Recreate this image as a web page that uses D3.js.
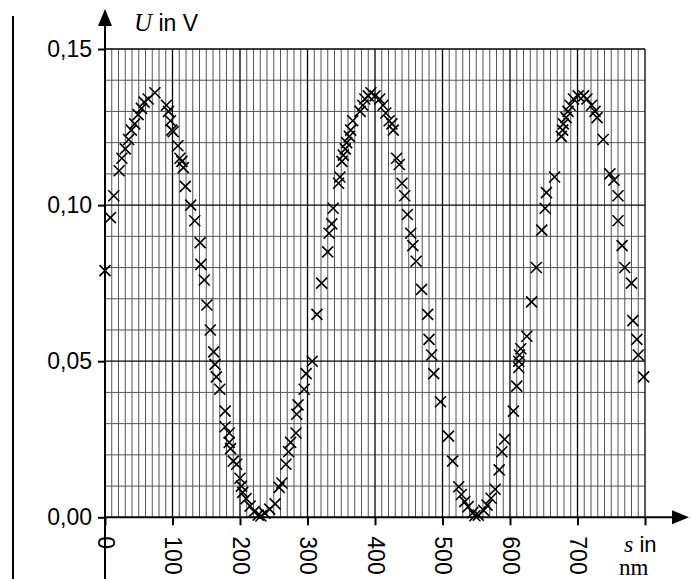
<!DOCTYPE html>
<html>
<head>
<meta charset="utf-8">
<script src="https://cdn.jsdelivr.net/npm/d3@7"></script>
<style>
  body { margin: 0; background: #fff; }
  svg { display: block; }
</style>
</head>
<body>
<script>
// measured points: path difference s (nm) and voltage U (V)
var sVals = [0, 8, 13, 21, 25, 30, 35, 39, 44, 49, 54, 58, 64, 74,
  91, 94, 97, 99, 101, 108, 111, 114, 116, 119, 127, 133, 141, 142, 147, 151, 156, 161, 163, 165, 170,
  178, 178, 184, 184, 186, 190, 195, 200, 202, 204, 209, 215, 221, 227, 231, 237, 244, 252,
  258, 262, 268, 272, 275, 283, 284, 286, 295, 298, 307, 314, 321, 330, 332, 336, 338,
  346, 348, 351, 353, 356, 358, 362, 364, 367, 378, 382, 385, 390, 394, 400, 407, 412, 416,
  421, 425, 427, 432, 436, 440, 444, 448, 453, 456, 461, 469, 478, 480, 484, 487, 497,
  509, 515, 524, 528, 533, 538, 545, 548, 553, 561, 566, 572, 578, 584, 588, 592,
  605, 610, 613, 613, 614, 616, 625, 632, 639, 647, 652, 654, 666, 676, 678, 679, 683, 686, 689,
  694, 701, 709, 714, 721, 726, 729, 738, 748, 754, 760, 760, 766, 770, 780, 782, 788, 790, 798];
var uVals = [0.079, 0.096, 0.103, 0.111, 0.115, 0.118, 0.121, 0.124, 0.126, 0.129, 0.131, 0.133, 0.134, 0.136,
  0.132, 0.130, 0.127, 0.124, 0.1235, 0.119, 0.115, 0.114, 0.112, 0.106, 0.100, 0.095, 0.088, 0.081, 0.076, 0.068, 0.060, 0.053, 0.049, 0.045, 0.041,
  0.034, 0.029, 0.027, 0.024, 0.022, 0.018, 0.017, 0.0125, 0.010, 0.008, 0.006, 0.0036, 0.0018, 0.0007, 0.0004, 0.0013, 0.0026, 0.0043,
  0.0096, 0.011, 0.017, 0.021, 0.024, 0.027, 0.033, 0.036, 0.041, 0.046, 0.050, 0.065, 0.075, 0.085, 0.091, 0.094, 0.099,
  0.107, 0.109, 0.114, 0.116, 0.118, 0.120, 0.122, 0.124, 0.127, 0.130, 0.132, 0.134, 0.135, 0.136, 0.135, 0.134, 0.132, 0.1295,
  0.127, 0.126, 0.124, 0.115, 0.113, 0.107, 0.103, 0.097, 0.091, 0.087, 0.082, 0.073, 0.065, 0.057, 0.052, 0.046, 0.037,
  0.026, 0.018, 0.0098, 0.0073, 0.005, 0.0034, 0.0015, 0.0005, 0.0007, 0.0022, 0.0039, 0.0061, 0.009, 0.0152, 0.021, 0.025,
  0.034, 0.042, 0.048, 0.050, 0.052, 0.054, 0.058, 0.069, 0.080, 0.092, 0.099, 0.104, 0.109, 0.122, 0.124, 0.126, 0.128, 0.130, 0.132,
  0.134, 0.135, 0.135, 0.134, 0.132, 0.130, 0.128, 0.121, 0.110, 0.108, 0.103, 0.095, 0.087, 0.080, 0.075, 0.063, 0.057, 0.052, 0.045];

var xTicks = [0, 100, 200, 300, 400, 500, 600, 700, 800];
var xTickLabels = ["0", "100", "200", "300", "400", "500", "600", "700", ""];
var yTicks = [0, 0.05, 0.10, 0.15];
var yTickLabels = ["0,00", "0,05", "0,10", "0,15"];

var data = sVals.map(function(s, i) { return {s: s, u: uVals[i]}; });

var W = 691, H = 579;
var x = d3.scaleLinear().domain([0, 800]).range([105, 645]);
var y = d3.scaleLinear().domain([0, 0.15]).range([517.3, 49]);

var svg = d3.select("body").append("svg")
    .attr("width", W)
    .attr("height", H);

// page border line on the left
svg.append("line")
    .attr("x1", 13).attr("x2", 13)
    .attr("y1", 16).attr("y2", H)
    .attr("stroke", "#000")
    .attr("stroke-width", 2);

// grid paper
var grid = svg.append("g");
grid.selectAll("line.vmin")
  .data(d3.range(10, 800, 10).filter(function(d) { return d % 100 != 0; }))
  .enter()
    .append("line")
    .attr("class", "vmin")
    .attr("x1", function(d) { return x(d); })
    .attr("x2", function(d) { return x(d); })
    .attr("y1", y(0.15)).attr("y2", y(0))
    .attr("stroke", "#555")
    .attr("stroke-width", 1);

grid.selectAll("line.hmin")
  .data(d3.range(1, 15).filter(function(d) { return d % 5 != 0; }))
  .enter()
    .append("line")
    .attr("class", "hmin")
    .attr("x1", x(0)).attr("x2", x(800))
    .attr("y1", function(d) { return y(d / 100); })
    .attr("y2", function(d) { return y(d / 100); })
    .attr("stroke", "#555")
    .attr("stroke-width", 1);

grid.selectAll("line.vmaj")
  .data(xTicks.slice(1))
  .enter()
    .append("line")
    .attr("class", "vmaj")
    .attr("x1", function(d) { return x(d); })
    .attr("x2", function(d) { return x(d); })
    .attr("y1", y(0.15)).attr("y2", y(0))
    .attr("stroke", "#000")
    .attr("stroke-width", 1.3);

grid.selectAll("line.hmaj")
  .data(yTicks.slice(1))
  .enter()
    .append("line")
    .attr("class", "hmaj")
    .attr("x1", x(0)).attr("x2", x(800))
    .attr("y1", function(d) { return y(d); })
    .attr("y2", function(d) { return y(d); })
    .attr("stroke", "#000")
    .attr("stroke-width", 1.3);

// axes
var yAxis = svg.append("g")
    .attr("transform", "translate(" + x(0) + ",0)")
    .call(d3.axisLeft(y).tickValues(yTicks).tickSize(7).tickPadding(6)
      .tickFormat(function(d, i) { return yTickLabels[i]; }));
yAxis.select(".domain").remove();
yAxis.selectAll("line").attr("stroke-width", 2);
yAxis.selectAll("text")
    .attr("font-family", "'Liberation Sans', Arial, sans-serif")
    .attr("font-size", 23)
    .attr("fill", "#000");

var xAxis = svg.append("g")
    .attr("transform", "translate(0," + y(0) + ")")
    .call(d3.axisBottom(x).tickValues(xTicks).tickSize(8)
      .tickFormat(function(d, i) { return xTickLabels[i]; }));
xAxis.select(".domain").remove();
xAxis.selectAll("line").attr("stroke-width", 2);
xAxis.selectAll("text")
    .attr("font-family", "'Liberation Sans', Arial, sans-serif")
    .attr("font-size", 23)
    .attr("fill", "#000")
    .attr("text-anchor", "start")
    .attr("dy", null)
    .attr("y", 0)
    .attr("dominant-baseline", "central")
    .attr("transform", "translate(0,19) rotate(90)");

// axis lines with arrows
svg.append("line")
    .attr("x1", x(0)).attr("x2", x(0))
    .attr("y1", H).attr("y2", 22)
    .attr("stroke", "#000").attr("stroke-width", 2);
svg.append("path")
    .attr("d", "M" + x(0) + ",9 L" + (x(0) - 7) + ",26 L" + (x(0) + 7) + ",26 Z")
    .attr("fill", "#000");

svg.append("line")
    .attr("x1", x(0) - 1).attr("x2", 675)
    .attr("y1", y(0)).attr("y2", y(0))
    .attr("stroke", "#000").attr("stroke-width", 2);
svg.append("path")
    .attr("d", "M689," + y(0) + " L672," + (y(0) - 7) + " L672," + (y(0) + 7) + " Z")
    .attr("fill", "#000");

// axis titles
var yt = svg.append("text")
    .attr("x", 134).attr("y", 31)
    .attr("font-size", 23)
    .attr("font-family", "'Liberation Sans', Arial, sans-serif");
yt.append("tspan").attr("font-family", "'Liberation Serif', serif").attr("font-style", "italic").attr("font-size", 25).text("U");
yt.append("tspan").text(" in V");

var xt = svg.append("text")
    .attr("x", 624).attr("y", 552)
    .attr("font-size", 22)
    .attr("font-family", "'Liberation Sans', Arial, sans-serif");
xt.append("tspan").attr("font-family", "'Liberation Serif', serif").attr("font-style", "italic").attr("font-size", 24).text("s");
xt.append("tspan").text(" in");
svg.append("text")
    .attr("x", 619).attr("y", 575)
    .attr("font-size", 23)
    .attr("font-family", "'Liberation Serif', serif")
    .text("nm");

// data crosses
var r = 5.5;
svg.selectAll("path.pt")
  .data(data)
  .enter()
    .append("path")
    .attr("class", "pt")
    .attr("d", function(d) {
      var cx = x(d.s), cy = y(d.u);
      return "M" + (cx - r) + "," + (cy - r) + "L" + (cx + r) + "," + (cy + r) +
             "M" + (cx - r) + "," + (cy + r) + "L" + (cx + r) + "," + (cy - r);
    })
    .attr("stroke", "#000")
    .attr("stroke-width", 1.6)
    .attr("fill", "none");
</script>
</body>
</html>
